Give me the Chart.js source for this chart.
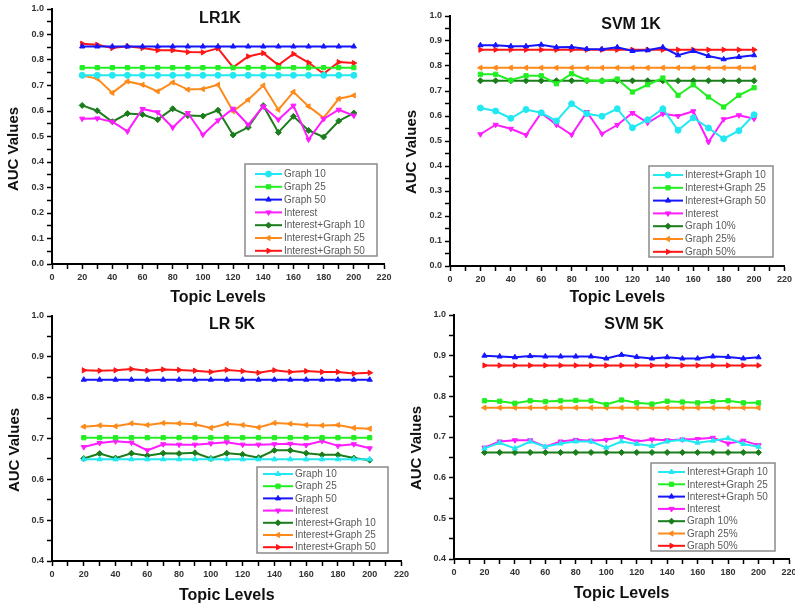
<!DOCTYPE html>
<html>
<head>
<meta charset="utf-8">
<script src="https://cdn.jsdelivr.net/npm/chart.js@4.4.1/dist/chart.umd.min.js"></script>
<style>
  html, body { margin: 0; padding: 0; background: #fff; }
  body { width: 795px; height: 608px; position: relative; overflow: hidden; }
  canvas { position: absolute; }
</style>
</head>
<body>
<canvas id="lr1k" width="400" height="310" style="left:0;top:0"></canvas>
<canvas id="svm1k" width="400" height="310" style="left:395px;top:0"></canvas>
<canvas id="lr5k" width="412" height="308" style="left:0;top:300px"></canvas>
<canvas id="svm5k" width="405" height="308" style="left:395px;top:300px"></canvas>
<script>
const topics = [20, 30, 40, 50, 60, 70, 80, 90, 100, 110, 120, 130, 140, 150, 160, 170, 180, 190, 200];

// LR 1K
const lr1kGraph10 = [0.74, 0.74, 0.74, 0.74, 0.74, 0.74, 0.74, 0.74, 0.74, 0.74, 0.74, 0.74, 0.74, 0.74, 0.74, 0.74, 0.74, 0.74, 0.74];
const lr1kGraph25 = [0.77, 0.77, 0.77, 0.77, 0.77, 0.77, 0.77, 0.77, 0.77, 0.77, 0.77, 0.77, 0.77, 0.77, 0.77, 0.77, 0.77, 0.77, 0.77];
const lr1kGraph50 = [0.853, 0.853, 0.853, 0.853, 0.853, 0.853, 0.853, 0.853, 0.853, 0.853, 0.853, 0.853, 0.853, 0.853, 0.853, 0.853, 0.853, 0.853, 0.853];
const lr1kInterest = [0.570, 0.571, 0.558, 0.520, 0.608, 0.595, 0.535, 0.592, 0.507, 0.563, 0.609, 0.546, 0.618, 0.566, 0.621, 0.488, 0.569, 0.605, 0.582];
const lr1kIG10 = [0.622, 0.601, 0.558, 0.590, 0.586, 0.566, 0.609, 0.582, 0.580, 0.603, 0.506, 0.536, 0.621, 0.516, 0.579, 0.524, 0.498, 0.561, 0.592];
const lr1kIG25 = [0.739, 0.727, 0.671, 0.716, 0.703, 0.677, 0.712, 0.684, 0.686, 0.703, 0.599, 0.644, 0.700, 0.605, 0.675, 0.618, 0.573, 0.648, 0.661];
const lr1kIG50 = [0.864, 0.860, 0.847, 0.854, 0.847, 0.838, 0.838, 0.831, 0.830, 0.846, 0.771, 0.814, 0.827, 0.780, 0.824, 0.790, 0.746, 0.792, 0.788];

// SVM 1K
const svm1kIG10 = [0.632, 0.620, 0.591, 0.626, 0.613, 0.580, 0.649, 0.609, 0.599, 0.629, 0.553, 0.585, 0.629, 0.543, 0.593, 0.552, 0.509, 0.541, 0.605];
const svm1kIG25 = [0.767, 0.767, 0.743, 0.761, 0.761, 0.729, 0.769, 0.743, 0.740, 0.748, 0.696, 0.725, 0.752, 0.683, 0.725, 0.676, 0.636, 0.683, 0.713];
const svm1kIG50 = [0.883, 0.883, 0.879, 0.879, 0.885, 0.875, 0.876, 0.868, 0.867, 0.875, 0.860, 0.863, 0.875, 0.843, 0.860, 0.840, 0.827, 0.836, 0.843];
const svm1kInterest = [0.527, 0.565, 0.549, 0.524, 0.612, 0.565, 0.525, 0.616, 0.529, 0.564, 0.612, 0.573, 0.609, 0.600, 0.619, 0.496, 0.587, 0.603, 0.589];
const svm1kGraph10 = [0.741, 0.741, 0.741, 0.741, 0.741, 0.741, 0.741, 0.741, 0.741, 0.741, 0.741, 0.741, 0.741, 0.741, 0.741, 0.741, 0.741, 0.741, 0.741];
const svm1kGraph25 = [0.793, 0.793, 0.793, 0.793, 0.793, 0.793, 0.793, 0.793, 0.793, 0.793, 0.793, 0.793, 0.793, 0.793, 0.793, 0.793, 0.793, 0.793, 0.793];
const svm1kGraph50 = [0.865, 0.865, 0.865, 0.865, 0.865, 0.865, 0.865, 0.865, 0.865, 0.865, 0.865, 0.865, 0.865, 0.865, 0.865, 0.865, 0.865, 0.865, 0.865];

// LR 5K
const lr5kGraph10 = [0.649, 0.649, 0.649, 0.649, 0.649, 0.649, 0.649, 0.649, 0.649, 0.649, 0.649, 0.649, 0.649, 0.649, 0.649, 0.649, 0.649, 0.649, 0.649];
const lr5kGraph25 = [0.702, 0.702, 0.702, 0.702, 0.702, 0.702, 0.702, 0.702, 0.702, 0.702, 0.702, 0.702, 0.702, 0.702, 0.702, 0.702, 0.702, 0.702, 0.702];
const lr5kGraph50 = [0.844, 0.844, 0.844, 0.844, 0.844, 0.844, 0.844, 0.844, 0.844, 0.844, 0.844, 0.844, 0.844, 0.844, 0.844, 0.844, 0.844, 0.844, 0.844];
const lr5kInterest = [0.679, 0.689, 0.693, 0.690, 0.671, 0.686, 0.685, 0.685, 0.688, 0.691, 0.685, 0.685, 0.686, 0.687, 0.684, 0.694, 0.682, 0.686, 0.676];
const lr5kIG10 = [0.651, 0.663, 0.652, 0.664, 0.658, 0.664, 0.663, 0.665, 0.651, 0.664, 0.661, 0.653, 0.671, 0.671, 0.664, 0.660, 0.660, 0.652, 0.647];
const lr5kIG25 = [0.729, 0.732, 0.730, 0.737, 0.733, 0.738, 0.737, 0.735, 0.726, 0.736, 0.733, 0.727, 0.738, 0.736, 0.733, 0.732, 0.733, 0.726, 0.724];
const lr5kIG50 = [0.867, 0.866, 0.867, 0.870, 0.866, 0.869, 0.868, 0.866, 0.863, 0.868, 0.865, 0.861, 0.867, 0.863, 0.865, 0.863, 0.863, 0.859, 0.861];

// SVM 5K
const svm5kIG10 = [0.672, 0.686, 0.672, 0.689, 0.676, 0.684, 0.689, 0.689, 0.674, 0.689, 0.683, 0.678, 0.689, 0.693, 0.686, 0.691, 0.697, 0.683, 0.676];
const svm5kIG25 = [0.789, 0.788, 0.783, 0.789, 0.787, 0.789, 0.790, 0.789, 0.780, 0.791, 0.784, 0.781, 0.788, 0.786, 0.784, 0.787, 0.789, 0.784, 0.784];
const svm5kIG50 = [0.900, 0.898, 0.896, 0.899, 0.898, 0.898, 0.898, 0.898, 0.893, 0.902, 0.897, 0.893, 0.896, 0.893, 0.893, 0.898, 0.897, 0.893, 0.896];
const svm5kInterest = [0.674, 0.689, 0.692, 0.692, 0.676, 0.689, 0.693, 0.691, 0.693, 0.700, 0.689, 0.694, 0.692, 0.694, 0.695, 0.698, 0.684, 0.691, 0.680];
const svm5kGraph10 = [0.662, 0.662, 0.662, 0.662, 0.662, 0.662, 0.662, 0.662, 0.662, 0.662, 0.662, 0.662, 0.662, 0.662, 0.662, 0.662, 0.662, 0.662, 0.662];
const svm5kGraph25 = [0.772, 0.772, 0.772, 0.772, 0.772, 0.772, 0.772, 0.772, 0.772, 0.772, 0.772, 0.772, 0.772, 0.772, 0.772, 0.772, 0.772, 0.772, 0.772];
const svm5kGraph50 = [0.876, 0.876, 0.876, 0.876, 0.876, 0.876, 0.876, 0.876, 0.876, 0.876, 0.876, 0.876, 0.876, 0.876, 0.876, 0.876, 0.876, 0.876, 0.876];

const FONT = "'Liberation Sans', Arial, sans-serif";
const CYAN = "#22e8f2", GREEN = "#22ee22", BLUE = "#1515ff", MAGENTA = "#ff1cff";
const DKGREEN = "#1b7d1b", ORANGE = "#ff8a1c", RED = "#ff1616";

const series = (label, values, color, pointStyle, rotation = 0) => ({
  label,
  data: values.map((v, i) => ({ x: topics[i], y: v })),
  borderColor: color,
  backgroundColor: color,
  borderWidth: 2,
  pointStyle,
  pointRotation: rotation,
  pointRadius: 3,
  pointBorderWidth: 1,
});

// title, y-axis title and the boxed legend inside the plot
const panelText = {
  id: "panelText",
  afterDraw(chart, args, opts) {
    const { ctx } = chart;
    ctx.save();
    ctx.fillStyle = "#111";
    ctx.font = "bold 16px " + FONT;
    ctx.textAlign = "center";
    ctx.textBaseline = "middle";
    ctx.fillText(opts.title, opts.titleX, opts.titleY);
    ctx.font = "bold 15px " + FONT;
    ctx.translate(opts.yTitleX, opts.yTitleY);
    ctx.rotate(-Math.PI / 2);
    ctx.fillText("AUC Values", 0, 0);
    ctx.restore();

    const lg = opts.legend;
    ctx.save();
    ctx.fillStyle = "#fff";
    ctx.fillRect(lg.x, lg.y, lg.w, lg.h);
    ctx.strokeStyle = "#8a8a8a";
    ctx.lineWidth = 1.5;
    ctx.strokeRect(lg.x, lg.y, lg.w, lg.h);
    ctx.font = "10px " + FONT;
    ctx.textAlign = "left";
    ctx.textBaseline = "middle";
    chart.data.datasets.forEach((ds, i) => {
      const y = lg.rowY + i * lg.rowH;
      ctx.strokeStyle = ds.borderColor;
      ctx.lineWidth = 2;
      ctx.beginPath();
      ctx.moveTo(lg.lineX0, y);
      ctx.lineTo(lg.lineX1, y);
      ctx.stroke();
      ctx.fillStyle = ds.backgroundColor;
      ctx.lineWidth = 1;
      Chart.helpers.drawPoint(ctx, {
        pointStyle: ds.pointStyle,
        rotation: ds.pointRotation,
        radius: 3,
        borderWidth: 1,
      }, (lg.lineX0 + lg.lineX1) / 2, y);
      ctx.fillStyle = "#5a5a5a";
      ctx.fillText(ds.label, lg.textX, y + 0.5);
    });
    ctx.restore();
  },
};

const makeChart = (id, datasets, yMin, area, xTitlePad, texts) => {
  const canvas = document.getElementById(id);
  return new Chart(canvas, {
    type: "line",
    data: { datasets },
    plugins: [panelText],
    options: {
      responsive: false,
      animation: false,
      layout: {
        padding: { left: 0, top: area.top, right: canvas.width - area.right, bottom: 0 },
      },
      plugins: {
        legend: { display: false },
        tooltip: { enabled: false },
        panelText: texts,
      },
      scales: {
        x: {
          type: "linear",
          min: 0,
          max: 220,
          afterFit: (s) => { s.height = canvas.height - area.bottom; },
          border: { display: true, color: "#000", width: 2 },
          grid: { drawOnChartArea: false, tickLength: 5, tickColor: "#000", tickWidth: 1.5 },
          ticks: {
            stepSize: 10,
            autoSkip: false,
            maxRotation: 0,
            padding: 3,
            color: "#333",
            font: { family: FONT, size: 9, weight: "bold" },
            callback: (v) => (v % 20 === 0 ? String(v) : ""),
          },
          title: {
            display: true,
            text: "Topic Levels",
            color: "#111",
            font: { family: FONT, size: 16, weight: "bold" },
            padding: { top: 0, bottom: xTitlePad },
          },
        },
        y: {
          min: yMin,
          max: 1.0,
          afterFit: (s) => { s.width = area.left; },
          border: { display: true, color: "#000", width: 2 },
          grid: { drawOnChartArea: false, tickLength: 5, tickColor: "#000", tickWidth: 1.5 },
          ticks: {
            stepSize: 0.05,
            autoSkip: false,
            padding: 3,
            color: "#333",
            font: { family: FONT, size: 9, weight: "bold" },
            callback: (v) => (Math.round(v * 100) % 10 === 0 ? v.toFixed(1) : ""),
          },
        },
      },
    },
  });
};

makeChart("lr1k", [
  series("Graph 10", lr1kGraph10, CYAN, "circle"),
  series("Graph 25", lr1kGraph25, GREEN, "rect"),
  series("Graph 50", lr1kGraph50, BLUE, "triangle"),
  series("Interest", lr1kInterest, MAGENTA, "triangle", 180),
  series("Interest+Graph 10", lr1kIG10, DKGREEN, "rectRot"),
  series("Interest+Graph 25", lr1kIG25, ORANGE, "triangle", 270),
  series("Interest+Graph 50", lr1kIG50, RED, "triangle", 90),
], 0, { left: 52, right: 384, top: 9, bottom: 264 }, 3, {
  title: "LR1K", titleX: 220, titleY: 19, yTitleX: 14, yTitleY: 149,
  legend: { x: 245, y: 164, w: 132, h: 92, rowY: 174, rowH: 12.8, lineX0: 255, lineX1: 282, textX: 284 },
});

makeChart("svm1k", [
  series("Interest+Graph 10", svm1kIG10, CYAN, "circle"),
  series("Interest+Graph 25", svm1kIG25, GREEN, "rect"),
  series("Interest+Graph 50", svm1kIG50, BLUE, "triangle"),
  series("Interest", svm1kInterest, MAGENTA, "triangle", 180),
  series("Graph 10%", svm1kGraph10, DKGREEN, "rectRot"),
  series("Graph 25%", svm1kGraph25, ORANGE, "triangle", 270),
  series("Graph 50%", svm1kGraph50, RED, "triangle", 90),
], 0, { left: 55, right: 391, top: 16, bottom: 266 }, 3, {
  title: "SVM 1K", titleX: 236, titleY: 25, yTitleX: 17, yTitleY: 152,
  legend: { x: 254, y: 166, w: 124, h: 91, rowY: 175, rowH: 12.8, lineX0: 258, lineX1: 288, textX: 290 },
});

makeChart("lr5k", [
  series("Graph 10", lr5kGraph10, CYAN, "triangle"),
  series("Graph 25", lr5kGraph25, GREEN, "rect"),
  series("Graph 50", lr5kGraph50, BLUE, "triangle"),
  series("Interest", lr5kInterest, MAGENTA, "triangle", 180),
  series("Interest+Graph 10", lr5kIG10, DKGREEN, "rectRot"),
  series("Interest+Graph 25", lr5kIG25, ORANGE, "triangle", 270),
  series("Interest+Graph 50", lr5kIG50, RED, "triangle", 90),
], 0.4, { left: 52, right: 402, top: 16, bottom: 261 }, 2.5, {
  title: "LR 5K", titleX: 232, titleY: 25, yTitleX: 15, yTitleY: 150,
  legend: { x: 257, y: 167, w: 131, h: 86, rowY: 174, rowH: 12.2, lineX0: 263, lineX1: 293, textX: 295 },
});

makeChart("svm5k", [
  series("Interest+Graph 10", svm5kIG10, CYAN, "triangle"),
  series("Interest+Graph 25", svm5kIG25, GREEN, "rect"),
  series("Interest+Graph 50", svm5kIG50, BLUE, "triangle"),
  series("Interest", svm5kInterest, MAGENTA, "triangle", 180),
  series("Graph 10%", svm5kGraph10, DKGREEN, "rectRot"),
  series("Graph 25%", svm5kGraph25, ORANGE, "triangle", 270),
  series("Graph 50%", svm5kGraph50, RED, "triangle", 90),
], 0.4, { left: 59, right: 394, top: 15, bottom: 259 }, 4.4, {
  title: "SVM 5K", titleX: 239, titleY: 25, yTitleX: 22, yTitleY: 148,
  legend: { x: 256, y: 163, w: 124, h: 88, rowY: 172, rowH: 12.3, lineX0: 263, lineX1: 290, textX: 292 },
});
</script>
</body>
</html>
